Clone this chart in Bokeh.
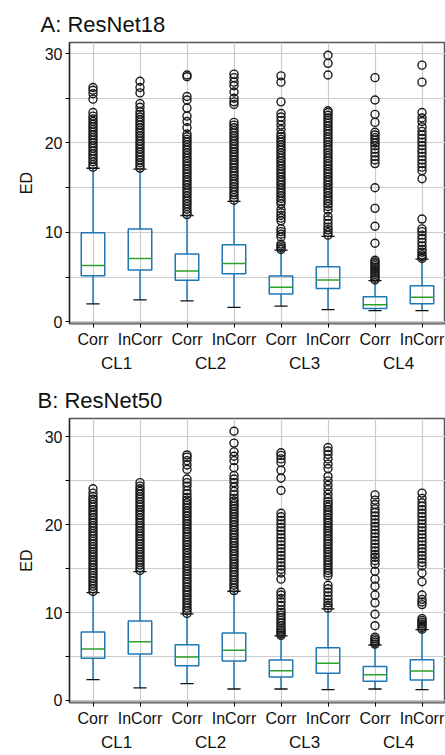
from bokeh.plotting import figure
from bokeh.models import FactorRange, ColumnDataSource, Range1d, FixedTicker
from bokeh.layouts import column
from bokeh.embed import file_html
from bokeh.resources import INLINE

groups = ["CL1", "CL2", "CL3", "CL4"]
kinds = ["Corr", "InCorr"]

# Panel A: ResNet18 (order: CL1 Corr, CL1 InCorr, CL2 Corr, ...)
whislo_a = [2.03, 2.48, 2.36, 1.63, 1.77, 1.37, 1.26, 1.26]
q1_a = [5.17, 5.80, 4.65, 5.39, 3.14, 3.73, 1.51, 2.03]
med_a = [6.32, 7.09, 5.69, 6.54, 3.88, 4.69, 1.92, 2.77]
q3_a = [9.97, 10.38, 7.61, 8.64, 5.13, 6.17, 2.81, 4.06]
whishi_a = [17.18, 17.07, 11.90, 13.48, 8.02, 9.57, 4.62, 7.02]

a1c = [17.3, 17.6, 17.9, 18.2, 18.5, 18.8, 19.1, 19.4, 19.7, 20.0, 20.3, 20.6, 20.9, 21.2, 21.5, 21.8, 22.1, 22.4, 22.7, 23.0, 23.4, 24.9, 25.5, 25.9, 26.2]
a1i = [17.2, 17.5, 17.8, 18.1, 18.4, 18.7, 19.0, 19.3, 19.6, 19.9, 20.2, 20.5, 20.8, 21.1, 21.4, 21.7, 22.0, 22.3, 22.6, 22.9, 23.2, 23.5, 24.0, 24.4, 25.6, 26.2, 26.9]
a2c = [12.0, 12.3, 12.6, 12.9, 13.2, 13.5, 13.8, 14.1, 14.4, 14.7, 15.0, 15.3, 15.6, 15.9, 16.2, 16.5, 16.8, 17.1, 17.4, 17.7, 18.0, 18.3, 18.6, 18.9, 19.2, 19.5, 19.8, 20.1, 20.4, 20.7, 21.0, 21.7, 22.4, 23.0, 23.9, 24.8, 25.2, 27.4, 27.6]
a2i = [13.6, 13.9, 14.2, 14.5, 14.8, 15.1, 15.4, 15.7, 16.0, 16.3, 16.6, 16.9, 17.2, 17.5, 17.8, 18.1, 18.4, 18.7, 19.0, 19.3, 19.6, 19.9, 20.2, 20.5, 20.8, 21.1, 21.4, 21.7, 22.0, 22.3, 24.3, 24.6, 25.0, 25.7, 26.4, 26.8, 27.3, 27.7]
a3c = [8.1, 8.3, 8.5, 8.7, 9.5, 9.8, 10.1, 10.4, 11.3, 11.6, 11.9, 12.2, 12.6, 13.2, 13.5, 13.8, 14.1, 14.4, 14.7, 15.0, 15.3, 15.6, 15.9, 16.2, 16.5, 16.8, 17.1, 17.4, 17.7, 18.0, 18.3, 18.6, 18.9, 19.2, 19.5, 19.8, 20.1, 20.4, 20.7, 21.0, 21.5, 22.0, 22.5, 22.9, 23.3, 24.6, 26.8, 27.5]
a3i = [9.7, 10.0, 10.3, 10.6, 11.0, 11.4, 11.8, 12.5, 12.9, 13.2, 13.5, 13.8, 14.1, 14.4, 14.7, 15.0, 15.3, 15.6, 15.9, 16.2, 16.5, 16.8, 17.1, 17.4, 17.7, 18.0, 18.3, 18.6, 18.9, 19.2, 19.5, 19.8, 20.1, 20.4, 20.7, 21.0, 21.3, 21.6, 21.9, 22.2, 22.5, 22.8, 23.1, 23.4, 23.6, 27.6, 28.9, 29.8]
a4c = [4.7, 4.9, 5.1, 5.3, 5.5, 5.7, 5.9, 6.1, 6.3, 6.5, 6.7, 6.9, 8.8, 10.7, 12.7, 15.0, 17.7, 18.1, 18.5, 18.9, 19.3, 19.7, 20.0, 20.3, 20.6, 20.9, 21.2, 22.3, 23.2, 24.8, 27.3]
a4i = [7.1, 7.3, 7.5, 7.8, 8.1, 8.5, 8.9, 9.3, 9.7, 10.1, 10.4, 11.5, 16.0, 16.9, 17.3, 17.7, 18.1, 18.5, 18.9, 19.3, 19.7, 20.1, 20.5, 20.9, 21.3, 21.8, 22.4, 22.8, 23.4, 26.8, 28.7]

# Panel B: ResNet50
whislo_b = [2.35, 1.41, 1.90, 1.29, 1.29, 1.22, 1.29, 1.22]
q1_b = [4.79, 5.28, 3.95, 4.48, 2.66, 3.08, 2.16, 2.32]
med_b = [5.85, 6.68, 4.94, 5.70, 3.38, 4.22, 2.92, 3.34]
q3_b = [7.79, 9.04, 6.34, 7.67, 4.60, 6.00, 3.84, 4.63]
whishi_b = [12.27, 14.66, 9.84, 12.42, 7.33, 10.41, 6.30, 8.05]

b1c = [12.4, 12.7, 13.0, 13.3, 13.6, 13.9, 14.2, 14.5, 14.8, 15.1, 15.4, 15.7, 16.0, 16.3, 16.6, 16.9, 17.2, 17.5, 17.8, 18.1, 18.4, 18.7, 19.0, 19.3, 19.6, 19.9, 20.2, 20.5, 20.8, 21.1, 21.4, 21.7, 22.0, 22.3, 22.6, 22.9, 23.2, 23.6, 24.1]
b1i = [14.8, 15.1, 15.4, 15.7, 16.0, 16.3, 16.6, 16.9, 17.2, 17.5, 17.8, 18.1, 18.4, 18.7, 19.0, 19.3, 19.6, 19.9, 20.2, 20.5, 20.8, 21.1, 21.4, 21.7, 22.0, 22.3, 22.6, 22.9, 23.2, 23.5, 23.8, 24.1, 24.4, 24.8]
b2c = [9.9, 10.2, 10.5, 10.8, 11.1, 11.4, 11.7, 12.0, 12.3, 12.6, 12.9, 13.2, 13.5, 13.8, 14.1, 14.4, 14.7, 15.0, 15.3, 15.6, 15.9, 16.2, 16.5, 16.8, 17.1, 17.4, 17.7, 18.0, 18.3, 18.6, 18.9, 19.2, 19.5, 19.8, 20.1, 20.4, 20.7, 21.0, 21.3, 21.6, 21.9, 22.2, 22.5, 22.8, 23.1, 23.5, 23.9, 24.4, 24.8, 25.2, 26.3, 26.8, 27.3, 27.7, 27.95]
b2i = [12.5, 12.8, 13.1, 13.4, 13.7, 14.0, 14.3, 14.6, 14.9, 15.2, 15.5, 15.8, 16.1, 16.4, 16.7, 17.0, 17.3, 17.6, 17.9, 18.2, 18.5, 18.8, 19.1, 19.4, 19.7, 20.0, 20.3, 20.6, 20.9, 21.2, 21.5, 21.8, 22.1, 22.4, 22.7, 23.0, 23.4, 23.8, 24.3, 24.8, 25.2, 25.6, 26.5, 27.3, 27.8, 28.3, 29.3, 30.65]
b3c = [7.4, 7.6, 7.8, 8.0, 8.2, 8.5, 8.8, 9.1, 9.4, 9.7, 10.0, 10.3, 10.8, 11.2, 11.6, 12.0, 12.3, 13.8, 14.5, 14.9, 15.3, 15.7, 16.1, 16.5, 16.9, 17.3, 17.7, 18.1, 18.5, 18.9, 19.3, 19.7, 20.1, 20.5, 20.9, 21.3, 23.9, 25.3, 26.2, 27.1, 27.5, 27.9, 28.2]
b3i = [10.5, 10.8, 11.1, 11.5, 11.9, 12.3, 12.7, 13.1, 14.2, 14.5, 14.8, 15.1, 15.4, 15.7, 16.0, 16.3, 16.6, 16.9, 17.2, 17.5, 17.8, 18.1, 18.4, 18.7, 19.0, 19.3, 19.6, 19.9, 20.2, 20.5, 20.8, 21.1, 21.4, 21.7, 22.0, 22.3, 22.6, 23.0, 23.5, 24.0, 24.5, 25.0, 25.5, 26.4, 26.9, 27.5, 28.0, 28.4, 28.8]
b4c = [6.4, 6.6, 6.8, 7.0, 7.2, 8.5, 9.8, 11.1, 12.0, 13.0, 13.8, 14.7, 15.5, 15.9, 16.3, 16.6, 17.0, 17.4, 17.8, 18.2, 18.6, 19.0, 19.4, 19.8, 20.2, 20.6, 21.0, 21.4, 21.8, 22.3, 22.8, 23.4]
b4i = [8.1, 8.3, 8.5, 8.7, 8.9, 9.1, 9.3, 10.9, 11.2, 11.5, 12.0, 13.5, 14.5, 15.3, 15.7, 16.1, 16.5, 16.9, 17.3, 17.7, 18.1, 18.5, 18.9, 19.3, 19.7, 20.1, 20.5, 20.9, 21.3, 21.7, 22.1, 22.5, 23.0, 23.6]

y_ticks = [0, 10, 20, 30]
y_minor = [5, 15, 25]

FONT = "Liberation Sans"
BLUE = "#1f77b4"
GREEN = "#2ca02c"
GRID = "#cccccc"


def make_panel(title, whislo, q1, med, q3, whishi, outs, y0, y1, left, top, bottom, height, standoff):
    factors = [(g, k) for g in groups for k in kinds]
    p = figure(x_range=FactorRange(*factors, group_padding=0, factor_padding=0, range_padding=0),
               y_range=Range1d(y0, y1), width=445, height=height,
               output_backend="svg", toolbar_location=None,
               min_border_left=left, min_border_right=0,
               min_border_top=top, min_border_bottom=bottom, title=title)
    src = ColumnDataSource(dict(
        x=factors,
        bl=[(g, k, -0.25) for g, k in factors],
        br=[(g, k, 0.25) for g, k in factors],
        cl=[(g, k, -0.14) for g, k in factors],
        cr=[(g, k, 0.14) for g, k in factors],
        whislo=whislo, q1=q1, med=med, q3=q3, whishi=whishi))
    p.segment(x0="x", y0="whislo", x1="x", y1="q1", source=src, line_color=BLUE, line_width=1.5)
    p.segment(x0="x", y0="q3", x1="x", y1="whishi", source=src, line_color=BLUE, line_width=1.5)
    p.segment(x0="cl", y0="whislo", x1="cr", y1="whislo", source=src, line_color="#111111", line_width=1.3)
    p.segment(x0="cl", y0="whishi", x1="cr", y1="whishi", source=src, line_color="#111111", line_width=1.3)
    p.vbar(x="x", width=0.5, bottom="q1", top="q3", source=src, fill_color=None,
           line_color=BLUE, line_width=1.5)
    p.segment(x0="bl", y0="med", x1="br", y1="med", source=src, line_color=GREEN, line_width=1.5)

    ox, oy = [], []
    for f, vals in zip(factors, outs):
        for v in vals:
            ox.append(f)
            oy.append(v)
    p.scatter(x=ox, y=oy, marker="circle", size=8, fill_color=None, line_color="#1a1a1a", line_width=1.4)

    p.title.text_font = FONT
    p.title.text_font_size = "22px"
    p.title.text_font_style = "normal"
    p.title.text_color = "#111111"
    p.title.offset = -(left - 37)
    p.title.standoff = standoff

    tk = FixedTicker(ticks=y_ticks, minor_ticks=y_minor)
    p.yaxis.ticker = tk
    p.ygrid.ticker = tk
    p.yaxis.axis_label = "ED"
    p.yaxis.axis_label_text_font = FONT
    p.yaxis.axis_label_text_font_size = "16px"
    p.yaxis.axis_label_text_font_style = "normal"
    p.yaxis.axis_label_text_color = "#111111"
    p.yaxis.axis_label_standoff = 7
    p.yaxis.major_label_text_font = FONT
    p.yaxis.major_label_text_font_size = "16px"
    p.yaxis.major_label_text_color = "#111111"
    p.yaxis.major_label_standoff = 3
    p.yaxis.major_tick_in = 0
    p.yaxis.major_tick_out = 4
    p.yaxis.minor_tick_in = 0
    p.yaxis.minor_tick_out = 4
    p.yaxis.axis_line_color = "#222222"
    p.yaxis.axis_line_width = 1.3

    p.xaxis.major_label_text_font = FONT
    p.xaxis.major_label_text_font_size = "16px"
    p.xaxis.major_label_text_color = "#111111"
    p.xaxis.group_text_font = FONT
    p.xaxis.group_text_font_size = "17px"
    p.xaxis.group_text_font_style = "normal"
    p.xaxis.group_text_color = "#111111"
    p.xaxis.separator_line_color = None
    p.xaxis.major_tick_in = 0
    p.xaxis.major_tick_out = 4
    p.xaxis.major_label_standoff = 3
    p.xaxis.axis_line_color = "#777777"
    p.xaxis.axis_line_width = 2

    p.xgrid.grid_line_color = GRID
    p.xgrid.grid_line_width = 1.2
    p.ygrid.grid_line_color = GRID
    p.ygrid.grid_line_width = 1.2
    p.ygrid.minor_grid_line_color = GRID
    p.ygrid.minor_grid_line_width = 1.2
    p.outline_line_color = "#555555"
    p.outline_line_width = 1.5
    p.background_fill_color = "white"
    p.border_fill_color = "white"
    return p


pa = make_panel("A: ResNet18", whislo_a, q1_a, med_a, q3_a, whishi_a,
                [a1c, a1i, a2c, a2i, a3c, a3i, a4c, a4i], -0.17, 31.23, 66, 42, 50, 375, 12)
pb = make_panel("B: ResNet50", whislo_b, q1_b, med_b, q3_b, whishi_b,
                [b1c, b1i, b2c, b2i, b3c, b3i, b4c, b4i], -0.25, 32.1, 69, 43, 53, 380, 12)

layout = column(pa, pb, spacing=0)
open("out.html", "w").write(file_html(layout, INLINE))
